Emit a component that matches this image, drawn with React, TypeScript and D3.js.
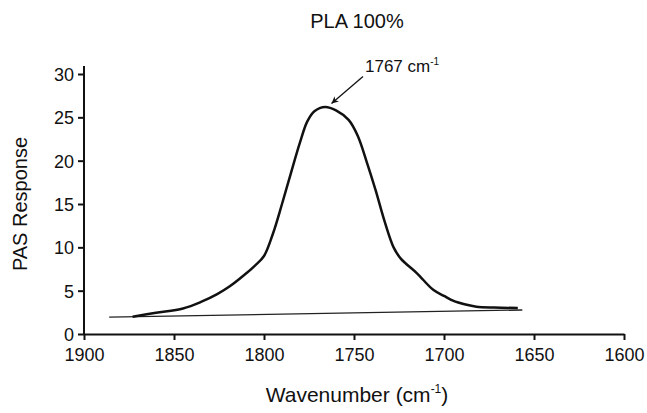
import React, { useEffect, useRef } from 'react';
import * as d3 from 'd3';

// Spectrum (wavenumber cm-1 -> PAS response)
const wavenumbers = [1873, 1860, 1845, 1835, 1826, 1819, 1811, 1805, 1800, 1795, 1790, 1785, 1780, 1776, 1772, 1766, 1760, 1753, 1748, 1743, 1738, 1733, 1728, 1724, 1715, 1706, 1700, 1695, 1688, 1682, 1672, 1659];
const responses = [2.0, 2.45, 2.95, 3.7, 4.6, 5.5, 6.8, 7.9, 9.0, 11.6, 15.0, 18.6, 22.1, 24.5, 25.7, 26.2, 25.8, 24.7, 22.9, 19.9, 16.6, 13.0, 10.0, 8.7, 7.0, 5.1, 4.4, 3.85, 3.4, 3.15, 3.05, 3.0];

// straight baseline under the band
const baselineX = [1886, 1656.5];
const baselineY = [1.94, 2.77];

const xTicks = [1900, 1850, 1800, 1750, 1700, 1650, 1600];
const yTicks = [0, 5, 10, 15, 20, 25, 30];

// peak annotation: arrow start / tip in data units
const peakLabel = '1767 cm';
const arrowFrom = [1745, 29.7];
const arrowTo = [1762.5, 26.6];

const FONT = '"Liberation Sans", Arial, Helvetica, sans-serif';

const App = () => {
  const svgRef = useRef<SVGSVGElement | null>(null);

  useEffect(() => {
    const svg = d3.select(svgRef.current);
    svg.selectAll('*').remove();

    const x = d3.scaleLinear().domain([1900, 1600]).range([84, 624]);
    const y = d3.scaleLinear().domain([0, 30]).range([334, 74]);

    // axes
    const xAxis = svg.append('g')
      .attr('transform', `translate(0,${y(0)})`)
      .call(d3.axisBottom(x).tickValues(xTicks).tickFormat(d3.format('d')).tickSize(6).tickPadding(8).tickSizeOuter(0));
    const yAxis = svg.append('g')
      .attr('transform', `translate(${x(1900)},0)`)
      .call(d3.axisLeft(y).tickValues(yTicks).tickFormat(d3.format('d')).tickSize(6).tickPadding(4).tickSizeOuter(0));

    [xAxis, yAxis].forEach(a => {
      a.select('.domain').attr('stroke', '#111').attr('stroke-width', 2);
      a.selectAll('.tick line').attr('stroke', '#111').attr('stroke-width', 2);
      a.selectAll('.tick text')
        .style('font-family', FONT)
        .style('font-size', '18px')
        .attr('fill', '#111');
    });
    // y axis runs a bit above the top tick
    yAxis.select('.domain').attr('d', `M0,${y(0)}V${y(30) - 8}`);
    xAxis.selectAll('.tick text').attr('dy', '0.71em');
    yAxis.selectAll('.tick text').attr('dy', '0.36em');

    // baseline
    const lineGen = d3.line<[number, number]>()
      .x(d => x(d[0]))
      .y(d => y(d[1]));
    svg.append('path')
      .datum(baselineX.map((v, i) => [v, baselineY[i]] as [number, number]))
      .attr('fill', 'none')
      .attr('stroke', '#222')
      .attr('stroke-width', 1.3)
      .attr('d', lineGen);

    // spectrum
    const curve = d3.line<[number, number]>()
      .x(d => x(d[0]))
      .y(d => y(d[1]))
      .curve(d3.curveCatmullRom.alpha(0.5));
    svg.append('path')
      .datum(wavenumbers.map((v, i) => [v, responses[i]] as [number, number]))
      .attr('fill', 'none')
      .attr('stroke', '#111')
      .attr('stroke-width', 2.5)
      .attr('stroke-linejoin', 'round')
      .attr('d', curve);

    // arrow to the peak
    const defs = svg.append('defs');
    defs.append('marker')
      .attr('id', 'arrowhead')
      .attr('viewBox', '0 0 10 10')
      .attr('refX', 10)
      .attr('refY', 5)
      .attr('markerWidth', 9)
      .attr('markerHeight', 7)
      .attr('markerUnits', 'userSpaceOnUse')
      .attr('orient', 'auto')
      .append('path')
      .attr('d', 'M0,0 L10,5 L0,10 L3,5 Z')
      .attr('fill', '#111');

    svg.append('line')
      .attr('x1', x(arrowFrom[0]))
      .attr('y1', y(arrowFrom[1]))
      .attr('x2', x(arrowTo[0]))
      .attr('y2', y(arrowTo[1]))
      .attr('stroke', '#111')
      .attr('stroke-width', 1.3)
      .attr('marker-end', 'url(#arrowhead)');

    const ann = svg.append('text')
      .attr('x', x(arrowFrom[0]) + 2)
      .attr('y', 72)
      .style('font-family', FONT)
      .style('font-size', '17px')
      .attr('fill', '#111')
      .text(peakLabel);
    ann.append('tspan')
      .attr('dy', -7)
      .style('font-size', '10px')
      .text('-1');

    // title
    svg.append('text')
      .attr('x', 357)
      .attr('y', 28)
      .attr('text-anchor', 'middle')
      .style('font-family', FONT)
      .style('font-size', '20px')
      .attr('fill', '#111')
      .text('PLA 100%');

    // axis titles
    const xt = svg.append('text')
      .attr('x', 357)
      .attr('y', 402)
      .attr('text-anchor', 'middle')
      .style('font-family', FONT)
      .style('font-size', '21px')
      .attr('fill', '#111')
      .text('Wavenumber (cm');
    xt.append('tspan').attr('dy', -9).style('font-size', '12px').text('-1');
    xt.append('tspan').attr('dy', 9).text(')');

    svg.append('text')
      .attr('transform', `translate(27,${(y(0) + y(30)) / 2}) rotate(-90)`)
      .attr('text-anchor', 'middle')
      .style('font-family', FONT)
      .style('font-size', '20px')
      .attr('fill', '#111')
      .text('PAS Response');
  }, []);

  return (
    <div style={{ position: 'absolute', left: 0, top: 0 }}>
      <svg ref={svgRef} width={647} height={413} style={{ display: 'block', background: '#fff' }} />
    </div>
  );
};

export default App;
